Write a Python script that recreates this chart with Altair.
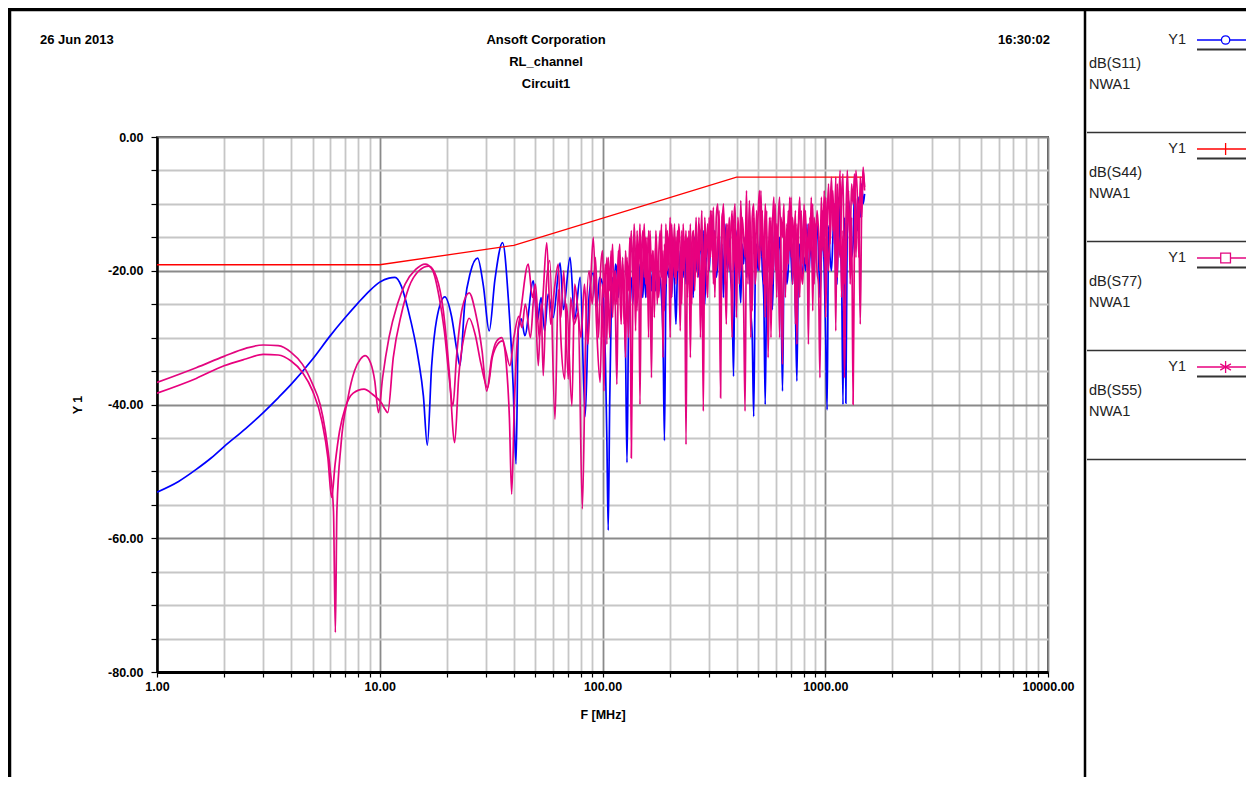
import altair as alt
import pandas as pd

FONT = "Liberation Sans, Arial, sans-serif"

# ---------------- data ----------------
# dB(S11) - blue, low-frequency part
S11_F_LOW = [1.0, 1.25, 1.5, 1.75, 2.0, 2.5, 3.0, 3.5, 4.0, 5.0, 6.0, 7.0, 8.0,
             9.0, 10.0, 11.0, 11.7, 12.5, 13.4, 14.9, 15.7, 16.35, 17.1,
             18.0, 19.6, 21.0, 22.2, 22.9, 24.1, 25.5, 27.5, 29.2, 31.0,
             32.9, 35.6, 37.8, 39.7, 40.9, 41.9, 43.2, 44.8, 48.9, 51.0,
             53.0, 55.0, 57.0, 60.0, 64.5, 66.8, 71.5, 75.0, 79.4, 83.6,
             87.0, 90.8, 94.4, 97.0]
S11_DB_LOW = [-53.1, -51.5, -49.7, -48.0, -46.3, -43.6, -41.2, -39.0, -37.0, -33.2, -29.7, -27.0, -24.8,
              -23.0, -21.7, -21.1, -21.0, -22.3, -25.8, -33.2, -38.7, -46.1, -34.2,
              -27.3, -23.9, -26.8, -31.9, -34.2, -24.8, -20.3, -18.1, -22.3, -29.0,
              -21.3, -15.8, -24.3, -37.2, -48.9, -28.7, -27.2, -29.7, -21.5, -27.5,
              -24.0, -29.0, -23.5, -27.0, -18.8, -25.8, -18.0, -27.2, -21.0, -41.8,
              -24.0, -20.3, -25.3, -21.0]

# dB(S77) - magenta, low-frequency part
S77_F_LOW = [1.0, 1.5, 2.0, 2.5, 3.0, 3.5, 4.0, 4.5, 5.0, 5.4,
             5.7, 6.0, 6.2, 6.32, 6.42, 6.7, 7.2, 7.7, 8.2, 8.6,
             9.1, 9.5, 9.87, 10.3, 11.0, 12.0, 13.0, 14.5, 16.0, 17.2,
             18.5, 19.5, 20.5, 21.3, 22.1, 23.5, 25.2, 27.0, 28.8, 30.2,
             31.8, 33.5, 35.3, 36.8, 38.4, 40.0, 42.1, 43.5, 45.0, 47.5,
             49.5, 51.5, 53.0, 54.2, 56.0, 58.0, 61.2, 63.3, 65.0, 67.0,
             70.2, 72.0, 74.5, 77.8, 81.2, 84.0, 87.0, 90.0, 93.0, 96.0,
             98.0]
S77_DB_LOW = [-36.7, -34.5, -32.8, -31.6, -31.1, -31.2, -32.2, -34.0, -37.0, -40.0,
              -44.0, -50.0, -56.0, -74.1, -56.0, -46.0, -39.0, -35.0, -33.2, -32.7,
              -33.8, -36.5, -41.2, -36.0, -30.0, -25.0, -22.0, -19.8, -19.0, -19.8,
              -24.0, -29.0, -36.0, -40.2, -33.0, -25.5, -23.3, -26.5, -32.0, -38.0,
              -33.0, -30.5, -30.0, -32.0, -34.2, -30.0, -26.8, -28.5, -25.0, -30.0,
              -23.0, -34.2, -25.0, -35.7, -22.0, -18.5, -42.2, -22.8, -27.0, -20.0,
              -36.2, -24.0, -28.0, -26.3, -55.6, -30.0, -20.0, -25.0, -18.0, -30.0,
              -20.0]

# dB(S55) - magenta, low-frequency part
S55_F_LOW = [1.0, 1.5, 2.0, 2.5, 3.0, 3.5, 4.0, 4.5, 5.0, 5.5,
             5.85, 6.08, 6.3, 6.6, 7.0, 7.6, 8.5, 9.3, 10.2, 10.6,
             10.86, 11.5, 12.5, 13.5, 15.0, 16.6, 18.0, 19.3, 20.5, 21.7,
             22.6, 24.0, 25.2, 26.8, 28.5, 30.5, 32.0, 33.8, 35.5, 37.0,
             38.2, 39.1, 40.2, 41.5, 43.0, 46.4, 48.5, 50.0, 52.0, 54.0,
             56.2, 58.5, 60.8, 63.3, 65.0, 67.7, 69.0, 72.9, 75.0, 77.8,
             80.0, 83.0, 86.0, 88.0, 90.9, 94.0, 97.6]
S55_DB_LOW = [-38.3, -36.1, -34.2, -33.2, -32.5, -32.6, -33.5, -35.2, -38.0, -42.5,
              -48.0, -53.9, -49.0, -44.0, -40.5, -38.3, -37.7, -38.5, -39.8, -40.8,
              -41.2, -33.0, -26.5, -22.5, -20.0, -19.3, -21.0, -26.0, -35.0, -45.7,
              -36.0, -29.5, -27.1, -29.5, -34.0, -37.5, -33.0, -31.0, -30.5, -34.0,
              -42.0, -53.4, -40.0, -30.0, -26.0, -19.0, -24.0, -22.0, -30.0, -24.0,
              -15.8, -28.0, -22.8, -19.0, -30.0, -36.2, -25.0, -40.2, -22.0, -26.3,
              -30.0, -22.0, -31.0, -24.0, -15.0, -28.0, -36.7]

# high-frequency part: sweep frequencies (MHz) shared by the three traces
F_HIGH = [100, 101.5, 103, 104.6, 106.1, 107.7, 109.3, 111, 112.6, 114.3,
          116, 117.8, 119.5, 121.3, 123.2, 125, 126.9, 128.8, 130.7, 132.7,
          134.7, 136.7, 138.7, 140.8, 142.9, 145.1, 147.3, 149.5, 151.7, 154,
          156.3, 158.6, 161, 163.4, 165.9, 168.4, 170.9, 173.5, 176.1, 178.7,
          181.4, 184.1, 186.9, 189.7, 192.5, 195.4, 198.3, 201.3, 204.3, 207.4,
          210.5, 213.7, 216.9, 220.1, 223.4, 226.8, 230.2, 233.6, 237.1, 240.7,
          244.3, 248, 251.7, 255.5, 259.3, 263.2, 267.1, 271.1, 275.2, 279.3,
          283.5, 287.8, 292.1, 296.5, 300.9, 305.4, 310, 314.7, 319.4, 324.2,
          329, 334, 339, 344, 349.2, 354.4, 359.7, 365.1, 370.6, 376.2,
          381.8, 387.5, 393.3, 399.2, 405.2, 411.3, 417.5, 423.7, 430.1, 436.5,
          443.1, 449.7, 456.4, 463.3, 470.2, 477.3, 484.5, 491.7, 499.1, 506.6,
          514.2, 521.9, 529.7, 537.6, 545.7, 553.9, 562.2, 570.6, 579.2, 587.9,
          596.7, 605.6, 614.7, 623.9, 633.3, 642.8, 652.4, 662.2, 672.1, 682.2,
          692.4, 702.8, 713.4, 724.1, 734.9, 745.9, 757.1, 768.5, 780, 791.7,
          803.6, 815.6, 827.9, 840.3, 852.9, 865.7, 878.6, 891.8, 905.2, 918.8,
          932.6, 946.5, 960.7, 975.1, 989.8, 1004.6, 1019.7, 1035, 1050.5, 1066.3,
          1082.3, 1098.5, 1115, 1131.7, 1148.7, 1165.9, 1183.4, 1201.2, 1219.2, 1237.5,
          1256, 1274.9, 1294, 1313.4, 1333.1, 1353.1, 1373.4, 1394, 1414.9, 1436.1,
          1457.7, 1479.5, 1501.7]
S77_DB_HIGH = [-17, -24, -19, -31, -18, -23, -17, -27, -20, -26,
               -37, -20, -16, -24, -18, -28, -17, -22, -30, -19,
               -14, -22, -13, -19, -26, -16, -40, -18, -14, -21,
               -15, -24, -14, -19, -36, -17, -22, -16, -25, -18,
               -14, -21, -17, -26, -13, -20, -15, -30, -13, -19,
               -13, -22, -14, -18, -29, -14, -20, -16, -46, -15,
               -22, -13, -25, -14, -19, -12, -21, -13, -17, -11,
               -27, -12, -18, -13, -20, -11, -17, -10.5, -24, -12,
               -10, -18, -39, -12, -11, -22, -13, -19, -12, -17,
               -30, -14, -10, -20, -13, -22, -9.5, -18, -25, -41,
               -14, -19, -9.5, -17, -26, -12, -19, -11, -16, -20,
               -8, -18, -15, -27, -11, -33, -18, -12, -22, -16,
               -10, -24, -13, -9, -19, -34, -12, -17, -20, -11,
               -17, -9, -22, -14, -28, -13, -18, -24, -11, -19,
               -10, -19, -15, -31, -12, -17, -10, -22, -13, -20,
               -22, -36, -14, -11, -18, -9, -16, -20, -12, -6,
               -14, -10, -29, -7, -15, -18, -9, -5.5, -22, -13,
               -5, -12, -15, -7, -10, -5.5, -18, -9, -12, -28,
               -10, -5, -7.5]
S55_DB_HIGH = [-22, -38, -24, -18, -23, -30, -21, -16, -25, -20,
               -25, -17, -22, -28, -19, -24, -33, -18, -23, -15,
               -48, -25, -17, -29, -14, -20, -13, -24, -19, -13,
               -22, -15, -30, -14, -20, -17, -27, -14, -19, -24,
               -20, -13, -33, -16, -22, -14, -19, -12, -24, -15,
               -21, -15, -20, -13, -17, -25, -13, -19, -14, -24,
               -14, -33, -16, -14, -23, -15, -19, -12, -30, -16,
               -41, -13, -20, -24, -12, -18, -11, -22, -14, -20,
               -16, -11, -25, -14, -10, -19, -28, -13, -20, -15,
               -11, -20, -13, -27, -12, -16, -20, -12, -15, -18,
               -8, -22, -14, -30, -12, -10, -22, -18, -12, -8,
               -17, -11, -22, -10, -16, -20, -12, -30, -14, -9,
               -20, -13, -16, -30, -12, -15, -10, -24, -13, -19,
               -9, -18, -12, -16, -11, -31, -14, -9, -20, -22,
               -16, -11, -20, -13, -18, -9, -26, -12, -16, -11,
               -14, -20, -9, -17, -8, -27, -13, -7, -16, -10,
               -8, -16, -6, -21, -11, -5, -24, -14, -36, -20,
               -12, -8, -22, -12, -40, -14, -5, -9, -18, -6,
               -12, -4.5, -8]
S11_DB_HIGH = [-22, -26, -33, -45, -58.8, -40, -27, -21, -24, -19,
               -20, -24, -19, -22, -20, -24, -32, -48.7, -30, -23,
               -21, -25, -20, -18, -17, -23, -19, -21, -24, -19,
               -24, -20, -22, -19, -23, -20, -21, -23, -20, -22,
               -21, -24, -30, -45.4, -24, -19, -21, -19, -24, -18,
               -22, -28, -20, -17, -23, -19, -21, -16, -22, -18,
               -15, -22, -19, -24, -15, -20, -17, -21, -14, -18,
               -14, -25, -18, -15, -20, -16, -13, -19, -14, -21,
               -19, -14, -22, -16, -24, -13, -18, -20, -15, -21,
               -24, -35.8, -17, -15, -13.8, -20, -24.8, -16, -19, -15,
               -21, -14, -18, -26, -30, -41.8, -22, -16, -20, -18,
               -14, -20, -24, -40, -22, -18, -16, -20, -25.8, -17,
               -13, -20, -17, -15, -23, -38, -20, -16, -22, -19.8,
               -14, -18, -22, -16, -26, -36.5, -19, -16, -21, -20,
               -18, -20, -13, -22, -18, -16, -20, -19, -15, -13,
               -17, -24, -18, -14, -20, -30, -40.8, -13.3, -18, -20,
               -15, -10, -19, -22, -9, -16, -20, -40, -12, -39.8,
               -12, -9.5, -14, -18, -16, -8, -11, -14, -9, -12,
               -7, -10, -8.5]

# dB(S44) - red
S44_F = [1, 10, 40, 400, 1480]
S44_DB = [-19.1, -19.1, -16.2, -6.0, -6.0]

assert len(S11_F_LOW) == len(S11_DB_LOW)
assert len(S77_F_LOW) == len(S77_DB_LOW)
assert len(S55_F_LOW) == len(S55_DB_LOW)
assert len(F_HIGH) == len(S77_DB_HIGH) == len(S55_DB_HIGH) == len(S11_DB_HIGH)

# axes
X_TICKS = [1, 2, 3, 4, 5, 6, 7, 8, 9,
           10, 20, 30, 40, 50, 60, 70, 80, 90,
           100, 200, 300, 400, 500, 600, 700, 800, 900,
           1000, 2000, 3000, 4000, 5000, 6000, 7000, 8000, 9000, 10000]
X_MAJOR = [1, 10, 100, 1000, 10000]
Y_TICKS = [-80, -75, -70, -65, -60, -55, -50, -45, -40, -35, -30,
           -25, -20, -15, -10, -5, 0]

# texts
HEADER_LEFT = "26 Jun 2013"
HEADER_CENTER = ["Ansoft Corporation", "RL_channel", "Circuit1"]
HEADER_RIGHT = "16:30:02"
X_TITLE = "F [MHz]"
Y_TITLE = "Y 1"
LEGEND_NAMES = ["dB(S11)", "dB(S44)", "dB(S77)", "dB(S55)"]
LEGEND_AXIS = "Y1"
LEGEND_SOURCE = "NWA1"
COLORS = ["#0000FF", "#FF0000", "#E2067F", "#E8007E"]
SHAPES = ["circle", "M0,-1L0,1", "square",
          "M0,-1L0,1M-0.87,-0.5L0.87,0.5M-0.87,0.5L0.87,-0.5"]

# ---------------- chart ----------------
W, H = 891, 535
PAD = {"left": 149, "top": 129, "right": 198, "bottom": 105}

x_major_test = "indexof(" + str(X_MAJOR) + ", datum.value) >= 0"
y_major_test = "datum.value % 20 == 0"

x_axis = alt.Axis(
    values=X_TICKS, title=None, grid=True,
    gridColor={"condition": {"test": x_major_test, "value": "#8a8a8a"}, "value": "#c6c6c6"},
    gridWidth=1.8,
    labelExpr=x_major_test + " ? format(datum.value, '.2f') : ''",
    labelFont=FONT, labelFontSize=12.5, labelFontWeight="bold", labelColor="#000",
    labelPadding=3, labelOverlap=False, labelFlush=False,
    domainColor="#000", domainWidth=3,
    tickColor="#000", tickSize=5, tickWidth=1.2,
)
y_axis = alt.Axis(
    values=Y_TICKS, title=None, grid=True,
    gridColor={"condition": {"test": y_major_test, "value": "#8a8a8a"}, "value": "#c6c6c6"},
    gridWidth=1.8,
    labelExpr=y_major_test + " ? (datum.value < 0 ? '-' : '') + format(abs(datum.value), '.2f') : ''",
    labelFont=FONT, labelFontSize=12.5, labelFontWeight="bold", labelColor="#000",
    labelPadding=8, labelOverlap=False, labelFlush=False,
    domainColor="#000", domainWidth=2.5,
    tickColor="#000", tickSize=6, tickWidth=1.2,
)
x_scale = alt.Scale(type="log", domain=[1, 10000], nice=False)
y_scale = alt.Scale(domain=[-80, 0], nice=False)


def series(f_vals, db_vals, color, width, interp):
    df = pd.DataFrame({"f": f_vals, "db": db_vals})
    return alt.Chart(df).mark_line(color=color, strokeWidth=width, interpolate=interp, clip=True).encode(
        x=alt.X("f:Q", scale=x_scale, axis=x_axis),
        y=alt.Y("db:Q", scale=y_scale, axis=y_axis),
    )


ONE = pd.DataFrame({"k": [0]})


def text(s, x, y, size=13, weight="bold", align="left", angle=0, color="#000"):
    return alt.Chart(ONE).mark_text(
        text=s, align=align, baseline="middle", font=FONT, fontSize=size,
        fontWeight=weight, color=color, angle=angle,
    ).encode(x=alt.value(x), y=alt.value(y))


def rule(x1, y1, x2, y2, color="#000", width=1.0):
    return alt.Chart(ONE).mark_rule(color=color, strokeWidth=width).encode(
        x=alt.value(x1), y=alt.value(y1), x2=alt.value(x2), y2=alt.value(y2))


def marker(shape, x, y, color, size):
    return alt.Chart(ONE).mark_point(
        shape=shape, size=size, filled=True, fill="white", stroke=color,
        strokeWidth=1.3, opacity=1,
    ).encode(x=alt.value(x), y=alt.value(y))


layers = [
    series(S11_F_LOW + F_HIGH, S11_DB_LOW + S11_DB_HIGH, COLORS[0], 1.7, "monotone"),
    series(S44_F, S44_DB, COLORS[1], 1.3, "linear"),
    series(S77_F_LOW + F_HIGH, S77_DB_LOW + S77_DB_HIGH, COLORS[2], 1.7, "monotone"),
    series(S55_F_LOW + F_HIGH, S55_DB_LOW + S55_DB_HIGH, COLORS[3], 1.7, "monotone"),
]

# header
layers.append(text(HEADER_LEFT, -117, -97))
for i, line in enumerate(HEADER_CENTER):
    layers.append(text(line, 389, -97 + 22 * i, align="center"))
layers.append(text(HEADER_RIGHT, 893, -97, align="right"))
# axis titles
layers.append(text(X_TITLE, 446, 578, size=12.5, align="center"))
layers.append(text(Y_TITLE, -79, 268, size=12.5, align="center", angle=270))

# frame
layers.append(rule(-149, -127.5, 1089, -127.5, width=3.5))
layers.append(rule(-147.5, -129, -147.5, 640, width=3.5))
layers.append(rule(928, -129, 928, 640, width=2.5))

# legend panel
for i, name in enumerate(LEGEND_NAMES):
    b = 109 * i
    layers.append(text(LEGEND_AXIS, 1029, -97 + b, size=14.5, weight="normal", align="right", color="#222"))
    layers.append(rule(1040, -97 + b, 1089, -97 + b, color=COLORS[i], width=1.3))
    layers.append(rule(1040, -87.5 + b, 1089, -87.5 + b, color="#333", width=2.2))
    if i == 1:
        layers.append(rule(1068.6, -103 + b, 1068.6, -91 + b, color=COLORS[i], width=1.3))
    else:
        layers.append(marker(SHAPES[i], 1068.6, -97 + b, COLORS[i], [70, 0, 95, 150][i]))
    layers.append(text(name, 932, -73 + b, size=14.5, weight="normal", color="#222"))
    layers.append(text(LEGEND_SOURCE, 932, -52 + b, size=14.5, weight="normal", color="#222"))
    layers.append(rule(930, -4.5 + b, 1089, -4.5 + b, color="#333", width=1.6))

chart = alt.layer(*layers).properties(
    width=W, height=H,
    autosize=alt.AutoSizeParams(type="none"),
    padding=PAD,
    background="white",
).configure_view(stroke="#555555", strokeWidth=2)

chart.save("out.html", embed_options={"renderer": "svg", "actions": False})
